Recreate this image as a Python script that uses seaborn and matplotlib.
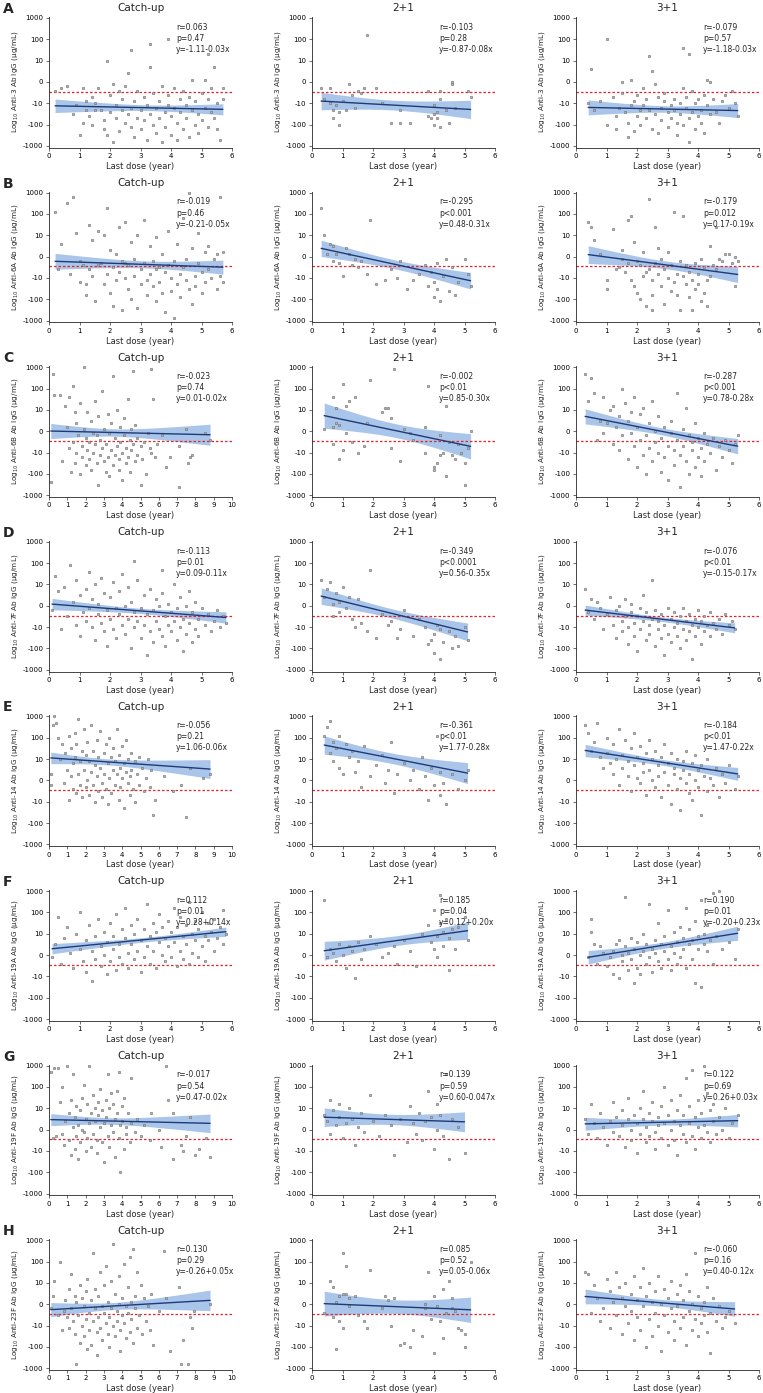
import numpy as np
import pandas as pd
import matplotlib
matplotlib.use("Agg")
import matplotlib.pyplot as plt
import seaborn as sns

# points are (last dose, log10 IgG) both stored in tenths
a_catch = [(2,-4),(4,-3),(6,-2),(8,-15),(9,-11),(10,-25),(11,-3),(12,-13),(12,-9),(13,-16),(14,-7),(14,-20),(15,-10),(16,-3),(17,-13),(18,-18),(18,-22),(19,10),(19,-25),(20,-6),(20,-14),(21,-28),(21,-1),(22,-11),(22,-17),(23,-4),(23,-23),(24,-13),(24,-8),(25,-19),(25,-2),(26,4),(26,-15),(27,15),(27,-21),(27,-12),(28,-9),(28,-26),(29,-17),(29,-4),(30,-13),(30,-22),(31,-7),(31,-18),(32,-27),(32,-11),(33,18),(33,7),(33,-15),(34,-20),(34,-5),(35,-24),(35,-12),(36,-9),(36,-17),(37,-28),(37,-2),(38,-14),(38,-21),(39,20),(39,-11),(39,-6),(40,-25),(40,-16),(41,-3),(41,-12),(42,-19),(42,-27),(43,-8),(43,-14),(44,-22),(44,-4),(45,-11),(45,-17),(46,-26),(46,-7),(47,1),(47,-13),(48,-20),(48,-9),(49,-15),(49,-24),(50,-5),(50,-18),(51,1),(51,-12),(52,13),(52,-21),(52,-8),(53,-14),(53,-3),(54,7),(54,-17),(55,-10),(55,-22),(56,-27),(57,-3),(57,-8),(15,-13),(11,-19)]
a_two = [(3,-3),(4,-8),(6,-3),(6,-10),(7,-17),(7,-13),(8,-11),(9,-20),(9,-14),(10,-9),(11,-13),(12,-1),(13,-6),(14,-12),(15,-4),(16,-5),(17,-3),(18,22),(21,-3),(23,-10),(26,-19),(29,-19),(29,-13),(32,-19),(38,-16),(38,-4),(39,-17),(40,-11),(40,-15),(40,-20),(41,-17),(41,-14),(42,-8),(42,-21),(42,-4),(44,-13),(45,-19),(46,-1),(46,0),(47,-12),(51,-4),(52,-7)]
a_three = [(4,-10),(5,6),(6,-13),(8,-9),(10,20),(10,-20),(12,-7),(13,-16),(13,-22),(14,-12),(15,0),(15,-5),(16,-14),(17,-19),(17,-26),(18,1),(18,-11),(19,-9),(19,-23),(20,-16),(20,-6),(21,-13),(21,-20),(22,-3),(22,-11),(23,-17),(23,-8),(24,12),(24,-13),(25,5),(25,-22),(26,-1),(26,-15),(27,-7),(27,-24),(28,-12),(28,-18),(29,-9),(29,-5),(30,-14),(30,-21),(31,-11),(31,-17),(32,-8),(32,-13),(33,-19),(33,-25),(34,-10),(34,-15),(35,16),(35,-3),(35,-20),(36,-12),(36,-7),(37,13),(37,-17),(37,-28),(38,-14),(38,-4),(39,-10),(39,-22),(40,-16),(40,-8),(41,-13),(41,-19),(42,-6),(42,-24),(43,1),(43,-11),(44,0),(44,-15),(45,-8),(46,-14),(47,-19),(48,-9),(49,-6),(50,-12),(51,-4),(52,-10),(53,-16)]

b_catch = [(2,21),(4,6),(6,25),(7,-8),(8,28),(9,11),(10,-2),(10,-12),(11,-4),(12,-18),(12,-13),(13,15),(13,-6),(14,-9),(14,8),(15,-21),(16,12),(16,-4),(17,-3),(18,-13),(18,10),(19,-8),(19,23),(20,-17),(20,3),(21,-5),(21,-23),(22,-11),(22,1),(23,14),(23,-7),(24,-25),(24,-2),(25,16),(25,-10),(26,-4),(26,-15),(27,7),(27,-20),(28,-1),(28,-9),(29,-24),(29,10),(30,-6),(30,-13),(31,17),(31,-3),(32,-11),(32,-18),(33,5),(33,-8),(34,-14),(34,-2),(35,-21),(35,9),(36,-5),(36,-12),(37,-17),(37,1),(38,-26),(38,-7),(39,12),(39,-4),(40,-10),(40,-16),(41,-29),(41,-2),(42,6),(42,-13),(43,-8),(43,-19),(44,18),(44,-5),(45,-11),(45,-1),(46,-15),(46,30),(47,-22),(47,4),(48,-9),(48,-14),(49,11),(49,-3),(50,-17),(50,-7),(51,2),(51,-12),(52,5),(52,-6),(53,-10),(54,-1),(55,-15),(55,1),(56,-9),(56,28),(57,2),(57,-12),(3,-6),(25,-3),(35,-6)]
b_two = [(3,23),(4,10),(5,1),(6,6),(7,5),(7,-2),(8,1),(9,-3),(10,-9),(11,4),(12,1),(13,-4),(14,-1),(15,-5),(16,-2),(18,-8),(19,17),(21,-13),(24,-11),(26,-6),(28,-10),(29,-2),(31,-15),(33,-11),(35,-8),(37,-4),(38,-14),(39,-7),(40,-19),(40,-12),(41,-15),(41,-3),(42,-21),(43,-9),(44,-1),(45,-16),(46,-5),(47,-18),(48,-12),(50,-1),(51,-8),(52,-14)]
b_three = [(4,16),(5,14),(6,8),(8,1),(10,-15),(10,-11),(12,13),(13,-6),(14,-5),(15,-1),(15,3),(16,-7),(17,-3),(17,17),(18,19),(18,-11),(19,7),(19,-14),(20,-17),(20,-2),(21,-4),(21,-20),(22,2),(22,-9),(23,-7),(23,-23),(24,27),(24,-6),(25,-11),(25,-18),(26,-3),(26,14),(27,-8),(27,4),(28,-14),(28,-1),(29,-22),(29,-6),(30,-10),(30,2),(31,-16),(31,-4),(32,21),(32,-12),(33,-8),(33,-18),(34,-2),(34,-25),(35,19),(35,-9),(36,-13),(36,-4),(37,-19),(37,-7),(38,-11),(38,-25),(39,-3),(39,-15),(40,-8),(40,-13),(41,-21),(41,-1),(42,-5),(42,-17),(43,-11),(43,-23),(44,5),(44,-9),(45,-4),(46,-6),(46,14),(47,-1),(48,-2),(49,1),(50,1),(51,-3),(52,-14),(52,0),(53,-2),(25,-25)]

c_catch = [(1,-24),(2,27),(3,17),(6,17),(7,-14),(9,12),(10,2),(11,-8),(11,16),(12,-19),(13,-5),(13,21),(14,9),(14,-15),(15,-10),(15,4),(16,-2),(17,-20),(17,13),(18,-7),(18,-12),(19,30),(19,1),(20,-3),(20,-16),(21,9),(21,-9),(22,-13),(22,-5),(23,5),(23,-18),(24,-1),(24,-10),(25,14),(25,-6),(26,-15),(26,-2),(27,-25),(27,7),(28,-11),(28,-4),(29,19),(29,-8),(30,-14),(30,1),(31,-19),(31,-6),(32,8),(32,-12),(33,-1),(33,-21),(34,4),(34,-9),(35,-16),(35,26),(36,-3),(36,-11),(37,10),(37,-7),(38,-13),(38,-18),(39,2),(39,-5),(40,-23),(40,-10),(41,6),(41,-2),(42,-15),(42,-8),(43,15),(43,-12),(44,-4),(44,-19),(45,1),(45,-9),(46,28),(46,-6),(47,-14),(47,3),(48,-11),(48,-3),(50,-7),(50,-25),(51,-13),(52,-5),(53,-20),(54,-1),(55,-8),(56,29),(56,-10),(57,15),(58,-12),(59,-6),(62,-2),(64,-17),(66,-12),(71,-7),(71,-26),(75,1),(76,-15),(77,-12),(78,-11),(85,-1),(88,-4)]
c_two = [(4,1),(7,2),(7,-6),(7,16),(8,4),(8,11),(9,3),(9,-13),(10,22),(10,-9),(11,-1),(11,12),(12,14),(13,-5),(14,16),(15,-10),(17,-7),(18,4),(19,24),(23,9),(24,11),(25,11),(26,-8),(26,6),(27,29),(29,-14),(30,1),(32,-1),(33,-4),(37,-10),(37,2),(38,21),(40,-18),(40,-17),(41,-15),(42,-2),(42,-11),(43,-10),(44,12),(44,-21),(45,-5),(46,-11),(47,-13),(48,-6),(49,-10),(50,-15),(50,-25),(51,-8),(52,0)]
c_three = [(3,27),(4,14),(5,25),(6,18),(7,-4),(8,5),(9,-1),(9,16),(10,4),(11,10),(12,-6),(12,12),(13,2),(14,-9),(14,7),(15,20),(15,-2),(16,13),(17,-13),(17,5),(18,-1),(18,9),(19,-7),(19,16),(20,2),(20,-17),(21,-4),(21,8),(22,11),(22,-11),(23,-2),(23,-20),(24,4),(24,-8),(25,-14),(25,14),(26,0),(26,-5),(27,-10),(27,7),(28,-19),(28,-3),(29,2),(29,-12),(30,-7),(30,-23),(31,5),(31,-1),(32,-16),(32,-9),(33,18),(33,-4),(34,-11),(34,-26),(35,1),(35,-7),(36,-14),(36,11),(37,-2),(37,-20),(38,-9),(38,-5),(39,-17),(39,4),(40,-12),(40,-3),(41,-8),(41,-21),(42,-1),(42,-14),(43,-6),(44,-10),(45,-3),(46,-18),(47,-7),(48,-12),(49,-4),(50,-9),(51,-15),(52,-6),(53,-2)]

d_catch = [(1,-2),(2,14),(3,7),(4,-11),(5,9),(6,-5),(7,19),(8,2),(9,-9),(9,12),(10,5),(10,-14),(11,-3),(12,8),(12,-7),(13,16),(13,-1),(14,-10),(14,3),(15,-16),(15,10),(16,-4),(16,1),(17,13),(17,-8),(18,-12),(18,6),(19,-2),(19,-19),(20,4),(20,-6),(21,11),(21,-11),(22,-1),(22,-15),(23,7),(23,-4),(24,-9),(24,15),(25,0),(25,-13),(26,-6),(26,9),(27,-20),(27,2),(28,-3),(28,-10),(29,12),(29,-7),(30,-1),(30,-15),(31,5),(31,-9),(32,-23),(32,-4),(33,8),(33,-12),(34,-2),(34,-17),(35,3),(35,-7),(36,-11),(36,0),(37,-14),(37,6),(38,-5),(38,-19),(39,1),(39,-9),(40,-3),(40,-12),(41,10),(41,-7),(42,-16),(42,-1),(43,-10),(43,4),(44,-6),(44,-21),(45,0),(45,-13),(46,-8),(46,7),(47,-3),(47,-17),(48,-11),(48,2),(49,-6),(49,-14),(50,-1),(51,-9),(52,-4),(53,-12),(54,-7),(55,-2),(56,-10),(57,-5),(58,-8),(28,21),(37,17)]
d_two = [(3,12),(4,4),(5,8),(6,11),(7,1),(7,-5),(8,6),(9,2),(9,-3),(10,9),(11,-1),(12,4),(13,-6),(14,-10),(15,3),(16,-8),(18,-12),(19,17),(21,-15),(23,-4),(25,-9),(26,-7),(28,-15),(29,-11),(30,-2),(33,-14),(35,-6),(37,-10),(38,-18),(39,-16),(40,-13),(40,-22),(41,-9),(42,-11),(42,-25),(43,-17),(45,-12),(46,-20),(47,-14),(48,-19),(50,-10),(51,-16)]
d_three = [(3,8),(4,-3),(5,3),(6,-6),(7,2),(8,-1),(9,-11),(10,-4),(11,4),(12,-9),(13,-2),(13,-15),(14,0),(15,-7),(15,-12),(16,3),(16,-5),(17,-10),(17,-18),(18,-3),(18,1),(19,-8),(19,-14),(20,-5),(20,-21),(21,-1),(21,-11),(22,-7),(22,5),(23,-16),(23,-3),(24,-9),(24,-13),(25,-6),(25,12),(26,-2),(26,-19),(27,-11),(27,-7),(28,-4),(28,-15),(29,-9),(29,-23),(30,-1),(30,-13),(31,-6),(31,-17),(32,-10),(32,-3),(33,-14),(33,-8),(34,-20),(34,-5),(35,-11),(35,-1),(36,-7),(36,-16),(37,-12),(37,-4),(38,-9),(38,-25),(39,-6),(39,-14),(40,-10),(40,-2),(41,-18),(41,-7),(42,-12),(42,-5),(43,-9),(44,-14),(44,-3),(45,-8),(46,-11),(47,-6),(48,-13),(49,-4),(50,-9),(51,-7),(52,-11)]

e_catch = [(1,3),(1,-2),(2,26),(3,30),(4,27),(5,20),(6,10),(7,17),(8,-1),(9,13),(10,5),(11,21),(11,-9),(12,2),(12,15),(13,8),(13,-4),(14,22),(14,11),(15,-6),(15,17),(16,3),(16,29),(17,-2),(17,9),(18,14),(18,-8),(19,24),(19,5),(20,-3),(20,12),(21,18),(21,0),(22,-7),(22,9),(23,26),(23,4),(24,-2),(24,14),(25,7),(25,-10),(26,19),(26,2),(27,-5),(27,11),(28,23),(28,6),(29,-1),(29,-8),(30,13),(30,3),(31,-4),(31,17),(32,8),(32,-11),(33,1),(33,20),(34,11),(34,-6),(35,5),(35,15),(36,-2),(36,9),(37,24),(37,3),(38,-9),(38,12),(39,6),(39,-3),(40,16),(40,1),(41,8),(41,-13),(42,4),(42,19),(43,-1),(43,10),(44,2),(44,-7),(45,13),(45,5),(46,-4),(47,9),(47,-10),(48,3),(49,11),(49,-2),(51,6),(52,-5),(53,1),(54,10),(55,-3),(56,5),(57,-16),(58,-9),(63,2),(68,-5),(72,-2),(75,-17),(77,6),(84,1),(88,3)]
e_two = [(4,21),(5,25),(6,28),(6,13),(7,18),(7,9),(8,15),(9,21),(9,6),(10,3),(11,17),(12,11),(13,14),(14,4),(15,9),(16,-3),(17,16),(19,2),(21,7),(23,12),(24,-1),(25,5),(26,18),(27,-6),(28,3),(30,8),(32,0),(33,5),(35,-4),(36,11),(37,2),(38,-9),(39,6),(40,-2),(41,21),(42,4),(42,-7),(43,-1),(44,-11),(46,3),(48,-4),(50,0),(51,5)]
e_three = [(3,26),(4,22),(5,14),(6,18),(7,27),(8,11),(9,6),(10,20),(10,13),(11,8),(12,3),(12,17),(13,10),(14,24),(14,-2),(15,12),(15,6),(16,19),(17,2),(17,9),(18,15),(18,-5),(19,7),(19,22),(20,1),(20,11),(21,16),(21,-1),(22,8),(22,4),(23,13),(23,-7),(24,5),(24,19),(25,0),(25,10),(26,-3),(26,14),(27,7),(27,2),(28,-8),(28,11),(29,4),(29,17),(30,-2),(30,8),(31,13),(31,-11),(32,3),(32,6),(33,-4),(33,10),(34,1),(34,-14),(35,9),(35,5),(36,-1),(36,14),(37,-6),(37,3),(38,8),(38,-9),(39,0),(39,12),(40,-3),(40,5),(41,-16),(41,7),(42,2),(43,-5),(43,10),(44,1),(45,-2),(46,6),(47,-8),(48,3),(49,-1),(50,7),(52,-4),(53,2)]

f_catch = [(1,-1),(2,5),(3,18),(4,-4),(5,8),(6,13),(7,1),(8,-6),(9,10),(10,3),(10,20),(11,-3),(12,7),(12,-8),(13,14),(14,2),(14,-12),(15,9),(15,-2),(16,17),(17,4),(17,-5),(18,11),(18,0),(19,-9),(19,6),(20,15),(20,-3),(21,3),(21,9),(22,-7),(22,19),(23,5),(23,-1),(24,12),(24,-4),(25,8),(25,22),(26,1),(26,-6),(27,14),(27,5),(28,-2),(28,10),(29,17),(29,2),(30,-8),(30,7),(31,12),(31,-1),(32,4),(32,24),(33,9),(33,-4),(34,15),(34,2),(35,-6),(35,11),(36,6),(36,19),(37,0),(37,13),(38,-3),(38,8),(39,16),(39,4),(40,-1),(40,11),(41,22),(41,6),(42,-5),(42,13),(43,2),(43,18),(44,9),(44,-2),(45,14),(45,5),(46,25),(46,-4),(47,10),(47,1),(48,16),(48,7),(49,-1),(49,12),(50,20),(50,4),(51,9),(51,-3),(52,15),(52,7),(53,11),(54,2),(54,17),(55,8),(56,13),(57,5),(58,10),(57,21)]
f_two = [(4,26),(5,-1),(6,3),(7,1),(8,-3),(9,5),(10,0),(11,-6),(12,4),(13,2),(14,-11),(15,6),(16,-2),(17,3),(19,9),(21,5),(23,-1),(25,1),(27,4),(28,-4),(30,7),(32,2),(34,-5),(36,10),(38,14),(39,6),(40,3),(40,21),(41,9),(41,-1),(42,15),(42,28),(43,4),(43,11),(44,17),(45,-7),(45,8),(46,12),(47,3),(48,13),(50,18),(51,7)]
f_three = [(4,-1),(5,17),(5,11),(6,5),(7,-4),(8,4),(9,1),(10,-5),(11,-1),(12,2),(12,-9),(13,5),(14,-11),(14,7),(15,0),(15,-3),(16,4),(16,27),(17,-7),(17,1),(18,8),(18,-2),(19,-13),(19,3),(20,-6),(20,6),(21,0),(21,-9),(22,2),(22,10),(23,-4),(23,5),(24,24),(24,-1),(25,3),(25,-8),(26,7),(26,1),(27,-3),(27,15),(28,5),(28,-6),(29,2),(29,9),(30,-2),(30,21),(31,4),(31,-7),(32,11),(32,1),(33,-4),(33,6),(34,13),(34,-1),(35,3),(35,8),(36,22),(36,-6),(37,5),(37,12),(38,-2),(38,7),(39,16),(39,-13),(40,3),(40,9),(41,26),(41,-15),(42,5),(42,10),(43,2),(43,14),(44,7),(45,29),(45,-4),(46,9),(47,30),(48,3),(50,6),(52,-2),(53,12)]

g_catch = [(1,27),(2,-4),(3,29),(4,-3),(5,29),(6,13),(7,-2),(7,20),(8,-7),(9,4),(10,30),(11,-5),(11,8),(12,-12),(12,14),(13,1),(13,26),(14,-9),(14,6),(15,-3),(15,11),(16,2),(16,-14),(17,9),(17,-6),(18,15),(18,0),(19,-1),(19,21),(20,5),(20,-10),(21,12),(21,-4),(22,3),(22,30),(23,-8),(23,8),(24,16),(24,-2),(25,10),(25,4),(26,-11),(26,-5),(27,13),(27,7),(28,1),(28,19),(29,-6),(29,9),(30,3),(30,-15),(31,14),(31,6),(32,-3),(32,26),(33,10),(33,-8),(34,2),(34,17),(35,-1),(35,12),(36,5),(36,-13),(37,18),(37,8),(38,-4),(38,27),(39,2),(39,-20),(40,11),(40,4),(41,-9),(41,15),(42,1),(42,-2),(43,8),(44,-6),(45,24),(45,3),(47,-1),(48,5),(50,-3),(52,2),(55,-5),(56,8),(60,0),(61,-8),(64,30),(65,14),(68,-14),(68,8),(72,-7),(73,-10),(75,-3),(77,6),(80,-12),(82,-9),(86,-4),(88,-13)]
g_two = [(4,7),(5,4),(6,14),(6,-2),(7,9),(8,2),(9,12),(9,6),(10,-4),(11,3),(12,10),(13,5),(14,-7),(15,1),(16,8),(17,-1),(19,16),(20,4),(22,-3),(24,7),(26,2),(27,-12),(29,5),(31,-6),(32,11),(33,3),(34,-2),(35,8),(36,-5),(37,4),(38,18),(39,6),(40,-9),(41,12),(41,0),(42,7),(43,-3),(44,26),(45,-14),(46,5),(48,1),(50,-11)]
g_three = [(3,5),(4,-2),(5,12),(6,3),(7,-4),(8,8),(9,1),(10,-7),(11,4),(12,13),(12,-1),(13,6),(14,-3),(15,9),(15,2),(16,-8),(17,5),(17,15),(18,0),(18,-5),(19,7),(20,3),(20,-11),(21,10),(21,-2),(22,5),(22,18),(23,-6),(23,1),(24,8),(24,-3),(25,4),(25,13),(26,-1),(26,-9),(27,6),(27,2),(28,11),(28,-4),(29,3),(29,20),(30,-7),(30,7),(31,0),(31,14),(32,-5),(32,4),(33,9),(33,-12),(34,2),(34,16),(35,-2),(35,7),(36,24),(36,-6),(37,3),(37,11),(38,-3),(38,28),(39,6),(39,-9),(40,14),(40,1),(41,-4),(41,8),(42,30),(42,2),(43,17),(43,-1),(44,9),(44,-6),(45,4),(45,12),(46,-2),(47,6),(48,0),(49,10),(50,-4),(51,3),(53,7)]

h_catch = [(1,-2),(2,4),(3,11),(5,-5),(6,20),(7,-12),(8,-3),(9,2),(10,-6),(11,7),(11,-11),(12,14),(12,-2),(13,-8),(14,4),(14,-14),(15,-28),(15,1),(16,-5),(17,9),(17,-18),(18,-10),(18,3),(19,-1),(19,-15),(20,6),(20,-7),(21,-21),(21,12),(22,-4),(22,-12),(23,2),(23,-19),(24,-8),(24,24),(25,7),(25,-2),(26,-13),(26,-24),(27,4),(27,-6),(28,15),(28,-11),(29,-1),(29,-17),(30,9),(30,-4),(31,-9),(31,18),(32,-14),(32,1),(33,-6),(33,-20),(34,11),(34,-2),(35,28),(35,-10),(36,5),(36,-15),(37,-3),(37,-8),(38,13),(38,0),(39,-12),(39,-22),(40,3),(40,-5),(41,19),(41,-9),(42,-1),(42,-16),(43,8),(43,-4),(44,22),(44,-13),(45,1),(45,-7),(46,26),(46,-18),(47,4),(47,-2),(48,-11),(48,15),(49,-5),(50,9),(51,-14),(52,3),(53,-8),(54,-1),(55,-12),(56,5),(57,-19),(60,-3),(63,25),(64,3),(66,-22),(71,8),(72,-28),(73,-17),(76,-28),(77,-6),(78,-11),(79,-3),(88,0)]
h_two = [(4,-4),(6,11),(7,8),(7,-6),(8,1),(8,-21),(9,4),(9,-8),(10,24),(10,-11),(10,5),(11,18),(11,5),(12,-1),(12,3),(14,4),(15,-5),(17,-8),(18,-11),(19,16),(23,-2),(24,4),(25,2),(26,-10),(27,3),(29,-19),(30,-18),(32,-20),(33,-12),(36,-15),(37,0),(37,-2),(38,15),(39,-7),(40,4),(40,-23),(41,-1),(42,-8),(43,-16),(43,7),(44,-4),(45,11),(46,-2),(46,3),(47,-3),(48,-11),(49,-12),(50,-14),(50,-20),(52,20)]
h_three = [(3,15),(4,14),(5,-4),(6,9),(7,3),(8,-8),(9,-2),(10,12),(11,6),(11,-11),(12,1),(13,15),(13,-5),(14,8),(15,-14),(15,3),(16,-1),(16,10),(17,-9),(18,5),(18,-3),(19,-17),(19,13),(20,2),(20,-6),(21,8),(21,-12),(22,-1),(22,17),(23,4),(23,-20),(24,-7),(24,10),(25,1),(25,-15),(26,6),(26,-4),(27,-10),(27,13),(28,0),(28,-22),(29,7),(29,-5),(30,-13),(30,3),(31,-2),(31,11),(32,-8),(32,-17),(33,5),(33,-1),(34,-11),(34,9),(35,-6),(35,2),(36,-19),(36,14),(37,-3),(37,6),(38,-12),(38,0),(39,-7),(39,24),(40,4),(40,-15),(41,-2),(41,-9),(42,1),(42,-5),(43,-13),(43,8),(44,-23),(44,-4),(45,3),(46,-8),(47,-1),(48,-11),(49,-6),(50,-3),(52,-9)]

serotypes = ["3", "6A", "6B", "7F", "14", "19A", "19F", "23F"]
row_letters = ["A", "B", "C", "D", "E", "F", "G", "H"]
groups = ["Catch-up", "2+1", "3+1"]
catch_xmax = [6, 6, 10, 6, 10, 6, 10, 10]
n_obs = [230, 48, 155]  # approx. subjects per group (point count in the figure)

intercepts = [[-1.11, -0.87, -1.18], [-0.21, 0.48, 0.17], [0.01, 0.85, 0.78], [0.09, 0.56, -0.15],
              [1.06, 1.77, 1.47], [0.28, 0.12, -0.20], [0.47, 0.60, 0.26], [-0.26, 0.05, 0.40]]
slopes = [[-0.03, -0.08, -0.03], [-0.05, -0.31, -0.19], [-0.02, -0.30, -0.28], [-0.11, -0.35, -0.17],
          [-0.06, -0.28, -0.22], [0.14, 0.20, 0.23], [-0.02, -0.047, 0.03], [0.05, -0.06, -0.12]]
r_text = [["r=0.063", "r=-0.103", "r=-0.079"], ["r=-0.019", "r=-0.295", "r=-0.179"],
          ["r=-0.023", "r=-0.002", "r=-0.287"], ["r=-0.113", "r=-0.349", "r=-0.076"],
          ["r=-0.056", "r=-0.361", "r=-0.184"], ["r=0.112", "r=0.185", "r=0.190"],
          ["r=-0.017", "r=0.139", "r=0.122"], ["r=0.130", "r=0.085", "r=-0.060"]]
p_text = [["p=0.47", "p=0.28", "p=0.57"], ["p=0.46", "p<0.001", "p=0.012"],
          ["p=0.74", "p<0.01", "p<0.001"], ["p=0.01", "p<0.0001", "p<0.01"],
          ["p=0.21", "p<0.01", "p<0.01"], ["p=0.01", "p=0.04", "p=0.01"],
          ["p=0.54", "p=0.59", "p=0.69"], ["p=0.29", "p=0.52", "p=0.16"]]
eq_text = [["y=-1.11-0.03x", "y=-0.87-0.08x", "y=-1.18-0.03x"], ["y=-0.21-0.05x", "y=0.48-0.31x", "y=0.17-0.19x"],
           ["y=0.01-0.02x", "y=0.85-0.30x", "y=0.78-0.28x"], ["y=0.09-0.11x", "y=0.56-0.35x", "y=-0.15-0.17x"],
           ["y=1.06-0.06x", "y=1.77-0.28x", "y=1.47-0.22x"], ["y=0.28+0.14x", "y=0.12+0.20x", "y=-0.20+0.23x"],
           ["y=0.47-0.02x", "y=0.60-0.047x", "y=0.26+0.03x"], ["y=-0.26+0.05x", "y=0.05-0.06x", "y=0.40-0.12x"]]

y_ticks = [-3, -2, -1, 0, 1, 2, 3]
y_ticklabels = ["-1000", "-100", "-10", "0", "10", "100", "1000"]
cutoff = np.log10(0.35)

panels = [[a_catch, a_two, a_three], [b_catch, b_two, b_three], [c_catch, c_two, c_three],
          [d_catch, d_two, d_three], [e_catch, e_two, e_three], [f_catch, f_two, f_three],
          [g_catch, g_two, g_three], [h_catch, h_two, h_three]]

sns.set_style("ticks")
plt.rcParams["font.family"] = ["DejaVu Sans"]
plt.rcParams["axes.linewidth"] = 0.6

W, H = 763, 1393
fig = plt.figure(figsize=(W / 100, H / 100), dpi=100)

col_left = [49, 312, 576]
col_width = 183
unit = 128 / 6.0
y_lo, y_hi = -3.08, 3.05

for i in range(8):
    top_tick = 18 + i * 174.6
    ax_top = top_tick - (y_hi - 3) * unit
    ax_h = (y_hi - y_lo) * unit
    for j in range(3):
        ax = fig.add_axes([col_left[j] / W, 1 - (ax_top + ax_h) / H, col_width / W, ax_h / H])
        df = pd.DataFrame(panels[i][j], columns=["x", "y"]) / 10.0

        # fitted line from the reported equation, 95% band from residual spread
        b0, b1 = intercepts[i][j], slopes[i][j]
        xs = np.linspace(df.x.min(), df.x.max(), 100)
        fit = b0 + b1 * xs
        resid = df.y - (b0 + b1 * df.x)
        s = np.sqrt((resid ** 2).sum() / (len(df) - 2))
        n = n_obs[j]
        sxx = n * df.x.var()
        half = 1.97 * s * np.sqrt(1 / n + (xs - df.x.mean()) ** 2 / sxx)
        ax.fill_between(xs, fit - half, fit + half, color="#a9c5e9", lw=0, zorder=1)

        ax.axhline(cutoff, color="#e8242b", ls=(0, (2, 1.6)), lw=0.9, zorder=2)
        sns.scatterplot(data=df, x="x", y="y", ax=ax, s=3.5, marker="o",
                        color="#b4b4b4", edgecolor="#666666", linewidth=0.35, zorder=3)
        sns.lineplot(x=xs, y=fit, ax=ax, color="#1d3b78", lw=1.0, zorder=4)

        xmax = catch_xmax[i] if j == 0 else 6
        ax.set_xlim(0, xmax)
        ax.set_xticks(range(0, xmax + 1))
        ax.set_ylim(y_lo, y_hi)
        ax.set_yticks(y_ticks)
        ax.set_yticklabels(y_ticklabels)
        ax.tick_params(labelsize=5, length=2.5, width=0.5, pad=1.5, colors="#333333", labelcolor="black")
        sns.despine(ax=ax)
        ax.set_xlabel("Last dose (year)", fontsize=6, labelpad=2)
        ax.set_ylabel(r"Log$_{10}$ Anti-" + serotypes[i] + " Ab IgG (μg/mL)", fontsize=5.2, labelpad=2)
        ax.set_title(groups[j], fontsize=7.5, pad=4)

        for k, txt in enumerate([r_text[i][j], p_text[i][j], eq_text[i][j]]):
            ax.text(0.695, 0.955 - k * 0.085, txt, transform=ax.transAxes, fontsize=5.5, va="top", ha="left")

    fig.text(3 / W, 1 - (top_tick - 9) / H, row_letters[i], fontsize=10, fontweight="bold", va="center", ha="left")

fig.savefig("out.png", dpi=100)
